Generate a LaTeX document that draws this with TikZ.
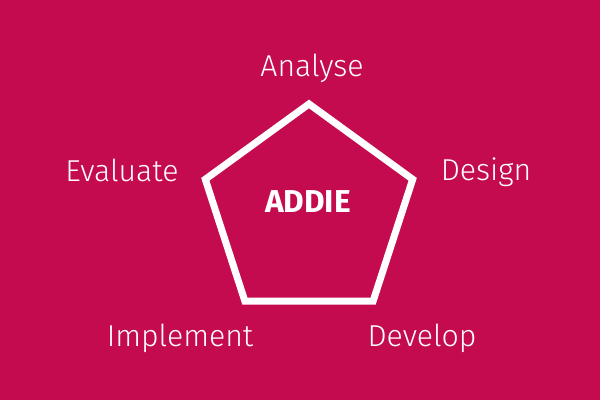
\documentclass[tikz,border=0pt]{standalone}
\usepackage{fontspec}
\setmainfont{Fira Sans}[UprightFont=* Light, BoldFont=* Bold]
\usepackage{tikz}
\usetikzlibrary{positioning, shapes.geometric}
\definecolor{backColor}{RGB}{196,11,80}
\tikzstyle{pixelGrid} = [x = 0.025cm, y = -0.025cm]
\tikzstyle{pentagonStyle} = [draw=white, line width=5pt, regular polygon, regular polygon sides=5, minimum size=5.45cm, inner sep=0pt]
\tikzstyle{stageText} = [text=white, anchor=base, inner sep=0pt, font=\fontsize{21.5}{25}\selectfont]
\tikzstyle{titleText} = [text=white, anchor=base, inner sep=0pt, font=\fontsize{22.5}{26}\selectfont\bfseries]
\newcommand{\stageLabel}[4]{\node [stageText] (#1) at (#2, #3) {#4};}

\begin{document}
\begin{tikzpicture}[pixelGrid]
  \fill [backColor] (0,0) rectangle (600,400);
  \useasboundingbox (0,0) rectangle (600,400);
  \node [pentagonStyle] (pentagon) at (309,213) {};
  \node [titleText] (addie) at (308,213) {ADDIE};
  \stageLabel{analyse}{312}{77}{Analyse}
  \stageLabel{design}{486}{181}{Design}
  \stageLabel{develop}{422}{347}{Develop}
  \stageLabel{implement}{180}{347}{Implement}
  \stageLabel{evaluate}{122}{182}{Evaluate}
\end{tikzpicture}
\end{document}
